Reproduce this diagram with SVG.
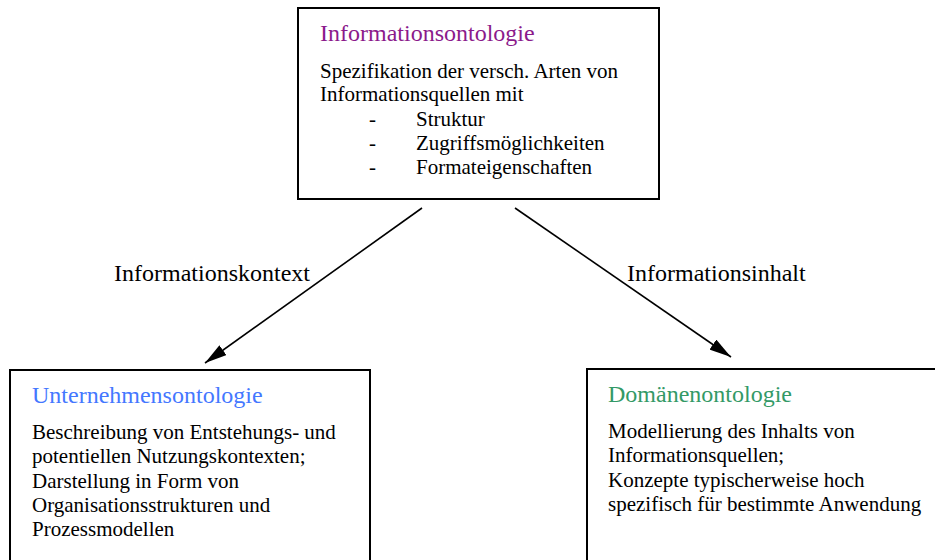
<svg xmlns="http://www.w3.org/2000/svg" width="935" height="560" viewBox="0 0 935 560">
  <style>
    .box { fill: #fff; stroke: #000; stroke-width: 2; }
    .title { font-size: 24px; }
    .body { font-size: 21px; }
    .label { font-size: 24px; }
    .edge { stroke: #000; stroke-width: 1.6; fill: none; marker-end: url(#arrow); }
  </style>
  <defs>
    <marker id="arrow" viewBox="0 0 22 12" refX="22" refY="6" markerWidth="22" markerHeight="12" markerUnits="userSpaceOnUse" orient="auto">
      <path d="M0,0 L22,6 L0,12 Z" fill="#000"/>
    </marker>
  </defs>
  <rect width="935" height="560" fill="#fff"/>

  <g font-family="'Liberation Serif', 'DejaVu Serif', serif" fill="#000">
  <g id="connectors">
    <line class="edge" x1="422" y1="208" x2="205" y2="363"/>
    <line class="edge" x1="515" y1="208" x2="731" y2="357"/>
    <text class="label" x="114" y="281">Informationskontext</text>
    <text class="label" x="627" y="281">Informationsinhalt</text>
  </g>

  <g id="informationsontologie">
    <rect class="box" x="298" y="8" width="361" height="191"/>
    <text class="title" x="320" y="41" fill="#8B1A8B">Informationsontologie</text>
    <text class="body" x="320" y="78">Spezifikation der versch. Arten von</text>
    <text class="body" x="320" y="101">Informationsquellen mit</text>
    <text class="body" x="369" y="126">-</text>
    <text class="body" x="416" y="126">Struktur</text>
    <text class="body" x="369" y="150">-</text>
    <text class="body" x="416" y="150">Zugriffsmöglichkeiten</text>
    <text class="body" x="369" y="174">-</text>
    <text class="body" x="416" y="174">Formateigenschaften</text>
  </g>

  <g id="unternehmensontologie">
    <rect class="box" x="10" y="370" width="360" height="200"/>
    <text class="title" x="32" y="403" fill="#4477FF">Unternehmensontologie</text>
    <text class="body" x="32" y="439">Beschreibung von Entstehungs- und</text>
    <text class="body" x="32" y="463">potentiellen Nutzungskontexten;</text>
    <text class="body" x="32" y="488">Darstellung in Form von</text>
    <text class="body" x="32" y="512">Organisationsstrukturen und</text>
    <text class="body" x="32" y="536">Prozessmodellen</text>
  </g>

  <g id="domaenenontologie">
    <rect class="box" x="587" y="369" width="360" height="200"/>
    <text class="title" x="608" y="402" fill="#339966">Domänenontologie</text>
    <text class="body" x="608" y="438">Modellierung des Inhalts von</text>
    <text class="body" x="608" y="462">Informationsquellen;</text>
    <text class="body" x="608" y="487">Konzepte typischerweise hoch</text>
    <text class="body" x="608" y="511">spezifisch für bestimmte Anwendung</text>
  </g>
  </g>
</svg>
